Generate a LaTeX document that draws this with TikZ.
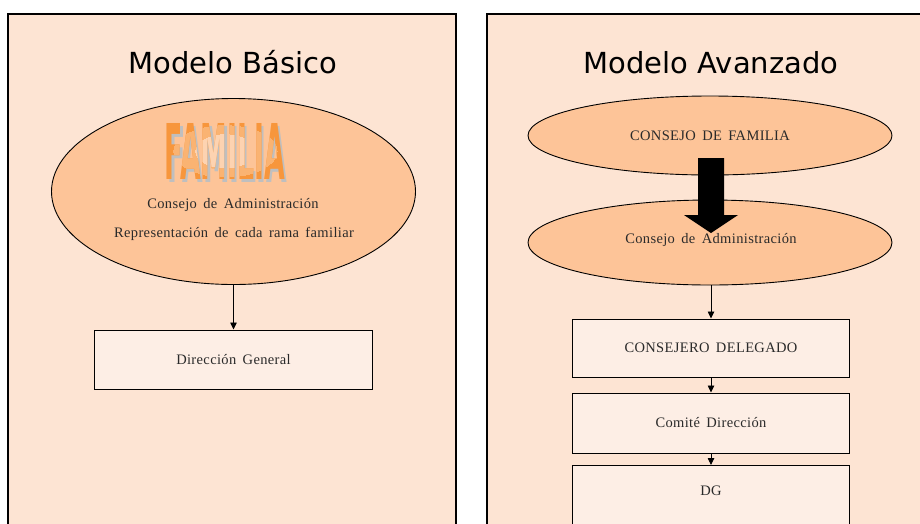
\documentclass[tikz,border=0pt]{standalone}
\usepackage{fontspec}
\setmainfont{Liberation Serif}[LetterSpace=2.5,WordSpace=1.6]
\usetikzlibrary{shapes.geometric,arrows.meta}
\newfontfamily\titlefont{DejaVu Sans}
\definecolor{panelbg}{HTML}{FDE4D3}
\definecolor{ellfill}{HTML}{FDC498}
\definecolor{boxfill}{HTML}{FDEEE5}
\definecolor{famorange}{HTML}{F7963C}
\definecolor{famlight}{HTML}{FFE8D8}
\definecolor{txt}{HTML}{2A2A2A}
\newcommand{\famword}{\resizebox{120pt}{56pt}{\titlefont\bfseries FAMILIA}}
\begin{document}
\begin{tikzpicture}[x=1pt,y=-1pt,
  panel/.style={draw=black, line width=1.1pt, fill=panelbg},
  ell/.style={ellipse, draw=black, line width=0.9pt, fill=ellfill, inner sep=0pt, text=txt, font=\fontsize{14.5}{17}\selectfont},
  orgbox/.style={rectangle, draw=black, line width=1pt, fill=boxfill, inner sep=0pt, text=txt, font=\fontsize{14.5}{17}\selectfont},
  ttl/.style={font=\titlefont\fontsize{29}{34}\selectfont, anchor=base},
  body/.style={text=txt, font=\fontsize{14.5}{17}\selectfont},
  fam/.style={inner sep=0pt},
  conn/.style={-{Triangle[length=7pt,width=6.5pt]}, line width=0.8pt}]
\useasboundingbox (0,0) rectangle (920,523);
\fill[white] (0,0) rectangle (920,523);
% panels
\draw[panel] (8,14) rectangle (456,540);
\draw[panel] (487,14) rectangle (940,540);
% titles
\node[ttl] (t1) at (233,73) {Modelo Básico};
\node[ttl] (t2) at (711,73) {Modelo Avanzado};
% left model
\node[ell, minimum width=364pt, minimum height=186pt] (e1) at (233.5,191.5) {};
\node[fam, text=gray!50] (famsh) at (227.5,154) {\famword};
\node[fam, text=famorange] (fam) at (225,151) {\famword};
\foreach \f/\rx/\ry in {35/52/26, 75/30/17}{
  \begin{scope}
    \clip (225,151) ellipse ({\rx} and {\ry});
    \node[fam, text=famlight!\f!famorange] at (225,151) {\famword};
  \end{scope}
}
\node[body, anchor=base] (l1) at (233,208) {Consejo de Administración};
\node[body, anchor=base] (l2) at (234,237) {Representación de cada rama familiar};
\node[orgbox, minimum width=278pt, minimum height=59pt] (dg1) at (233.5,359.5) {Dirección General};
\draw[conn] (e1.south) -- (dg1.north);
% right model
\node[ell, minimum width=364pt, minimum height=79pt] (cf) at (710,135.5) {CONSEJO DE FAMILIA};
\node[ell, minimum width=364pt, minimum height=85pt] (ca) at (710,242.5) {};
\fill[black] (698,158) -- (724,158) -- (724,215) -- (738,215) -- (711,233) -- (684,215) -- (698,215) -- cycle;
\node[body] (catext) at (711,240) {Consejo de Administración};
\node[orgbox, minimum width=277pt, minimum height=58pt] (cd) at (711,348) {CONSEJERO DELEGADO};
\node[orgbox, minimum width=277pt, minimum height=60pt] (cm) at (711,423) {Comité Dirección};
\node[orgbox, minimum width=277pt, minimum height=60pt, anchor=north] (dg2) at (711,465) {};
\node[body] (dgt) at (711,491) {DG};
\draw[conn] (cd.north |- ca.south) -- (cd.north);
\draw[conn] (cd.south) -- (cm.north);
\draw[conn] (cm.south) -- (dg2.north);
\end{tikzpicture}
\end{document}
